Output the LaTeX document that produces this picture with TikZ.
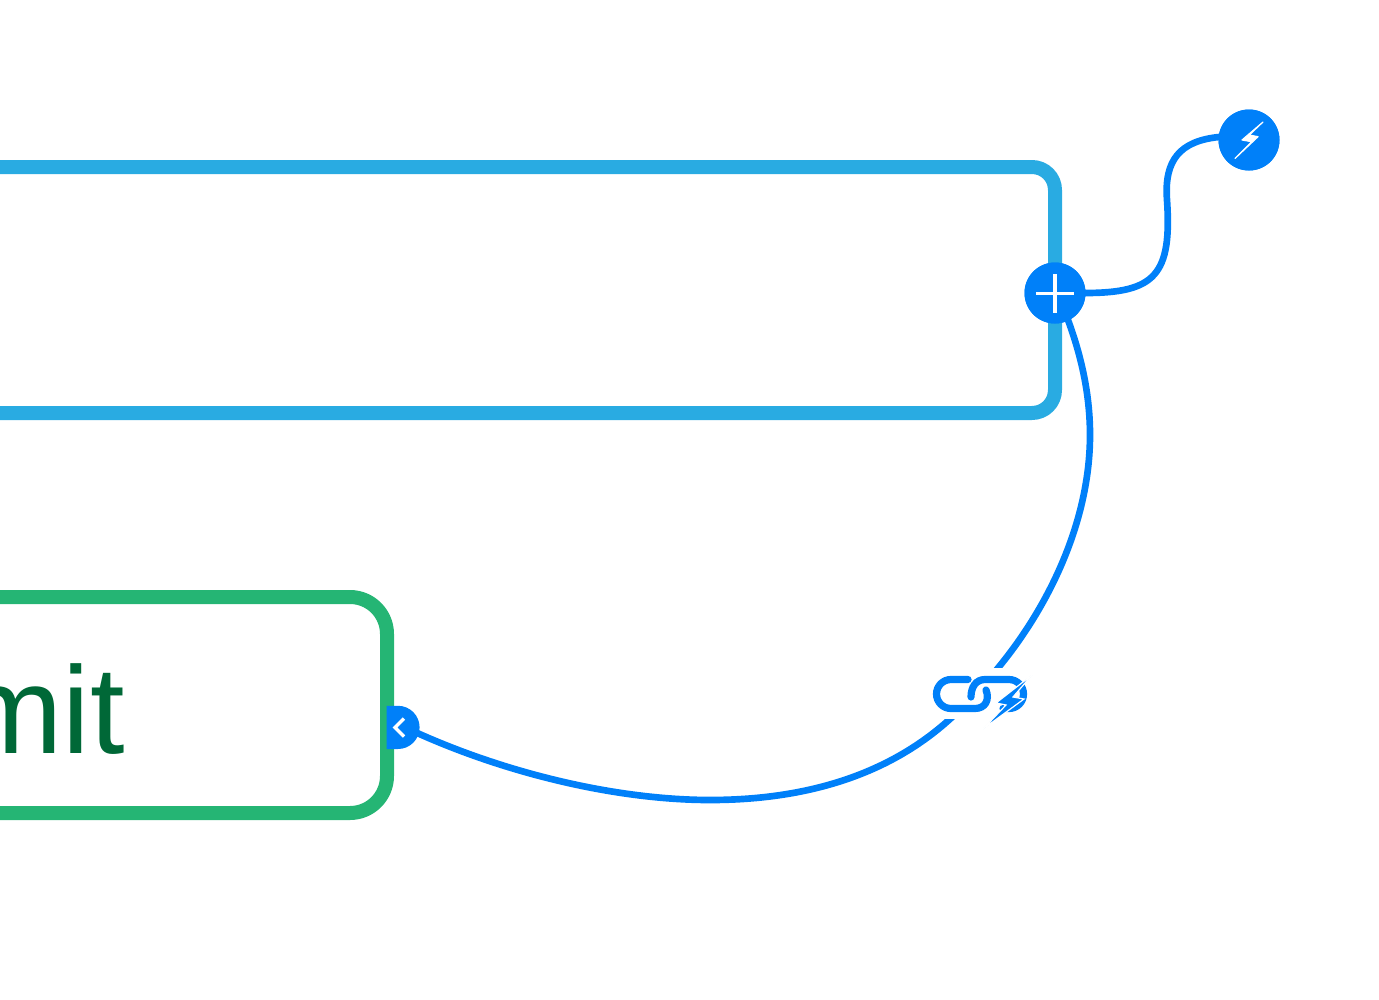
\documentclass[tikz,border=0pt]{standalone}
\usepackage{fontspec}
\setmainfont{Liberation Sans}
\definecolor{linkblue}{HTML}{0080F9}
\definecolor{boxblue}{HTML}{29ABE2}
\definecolor{boxgreen}{HTML}{25B574}
\definecolor{textgreen}{HTML}{006837}
\tikzset{
  panel/.style={line width=10.5pt,line join=round},
  wire/.style={draw=linkblue,line width=5pt},
  disc/.style={circle,fill=linkblue,minimum size=45.75pt,inner sep=0pt},
  glyph/.style={draw=white,line width=2.6pt},
  chain/.style={draw=linkblue,line width=5.4pt,line cap=round},
}
\begin{document}
\begin{tikzpicture}[x=0.75pt,y=-0.75pt]
\useasboundingbox (0,0) rectangle (1379,1000);
\begin{scope}
\clip (0,0) rectangle (1379,1000);
% panels
\draw[panel,boxblue] (-20,167) -- (1032,167) arc[start angle=90,end angle=0,radius=23*0.75pt] -- (1055,390) arc[start angle=0,end angle=-90,radius=23*0.75pt] -- (-20,413);
\draw[panel,boxgreen] (-20,597) -- (350,597) arc[start angle=90,end angle=0,radius=37*0.75pt] -- (387,776) arc[start angle=0,end angle=-90,radius=37*0.75pt] -- (-20,813);
\node[anchor=base east,inner sep=0pt,text=textgreen,font=\fontsize{93pt}{93pt}\selectfont] (label) at (125,753) {mit};
% nodes
\node[disc] (plus) at (1055,293) {};
\node[disc] (bolt) at (1249,140) {};
\coordinate (collapse) at (398,727.4);
% connectors
\draw[wire] (plus.center) -- (1085,293) .. controls (1155,293) and (1172,275) .. (1167,200) .. controls (1164,160) and (1180,141) .. (1219,137) -- (bolt.center);
\draw[wire] (plus.center) -- (1068,320) .. controls (1082,358) and (1090,396) .. (1090,435) .. controls (1090,520) and (1050,605) .. (998,668) .. controls (985,685) and (965,705) .. (950,719) .. controls (885,778) and (800,800) .. (710,800) .. controls (620,800) and (510,775) .. (415,732) -- (collapse);
\fill[white] (925,668) rectangle (1035,719);
% link icon
\draw[chain] (968,679.5) -- (951,679.5) arc[start angle=90,end angle=270,radius=14.5*0.75pt] -- (975,708.5) .. controls (985,708.5) and (990,700) .. (986,690);
\draw[chain] (971,697) .. controls (971,687) and (976,679.5) .. (985,679.5) -- (1009,679.5) arc[start angle=90,end angle=-90,radius=14.5*0.75pt] -- (1003,708.5);
\fill[linkblue,draw=white,line width=0.9pt,line join=miter] (1032,675) -- (996,703) -- (1006,705) -- (983,729) -- (1024,699) -- (1013,697) -- cycle;
% discs on top
\fill[linkblue] (plus) circle[radius=30.5*0.75pt];
\fill[linkblue] (bolt) circle[radius=30.5*0.75pt];
\fill[linkblue] (386.7,705.8) -- (398,705.8) arc[start angle=90,end angle=-90,radius=21.6*0.75pt] -- (386.7,749) -- cycle;
% glyphs
\draw[glyph] (1036,293.3) -- (1074,293.3);
\draw[glyph] (1055,274) -- (1055,312.6);
\filldraw[white,line width=0.9pt,line join=round] (1263,122) -- (1242,140) -- (1251.7,141.7) -- (1235,158.5) -- (1258,136.7) -- (1249.3,135) -- cycle;
\draw[glyph] (404,718.5) -- (395,727.5) -- (404,736.5);
\end{scope}
\end{tikzpicture}
\end{document}
